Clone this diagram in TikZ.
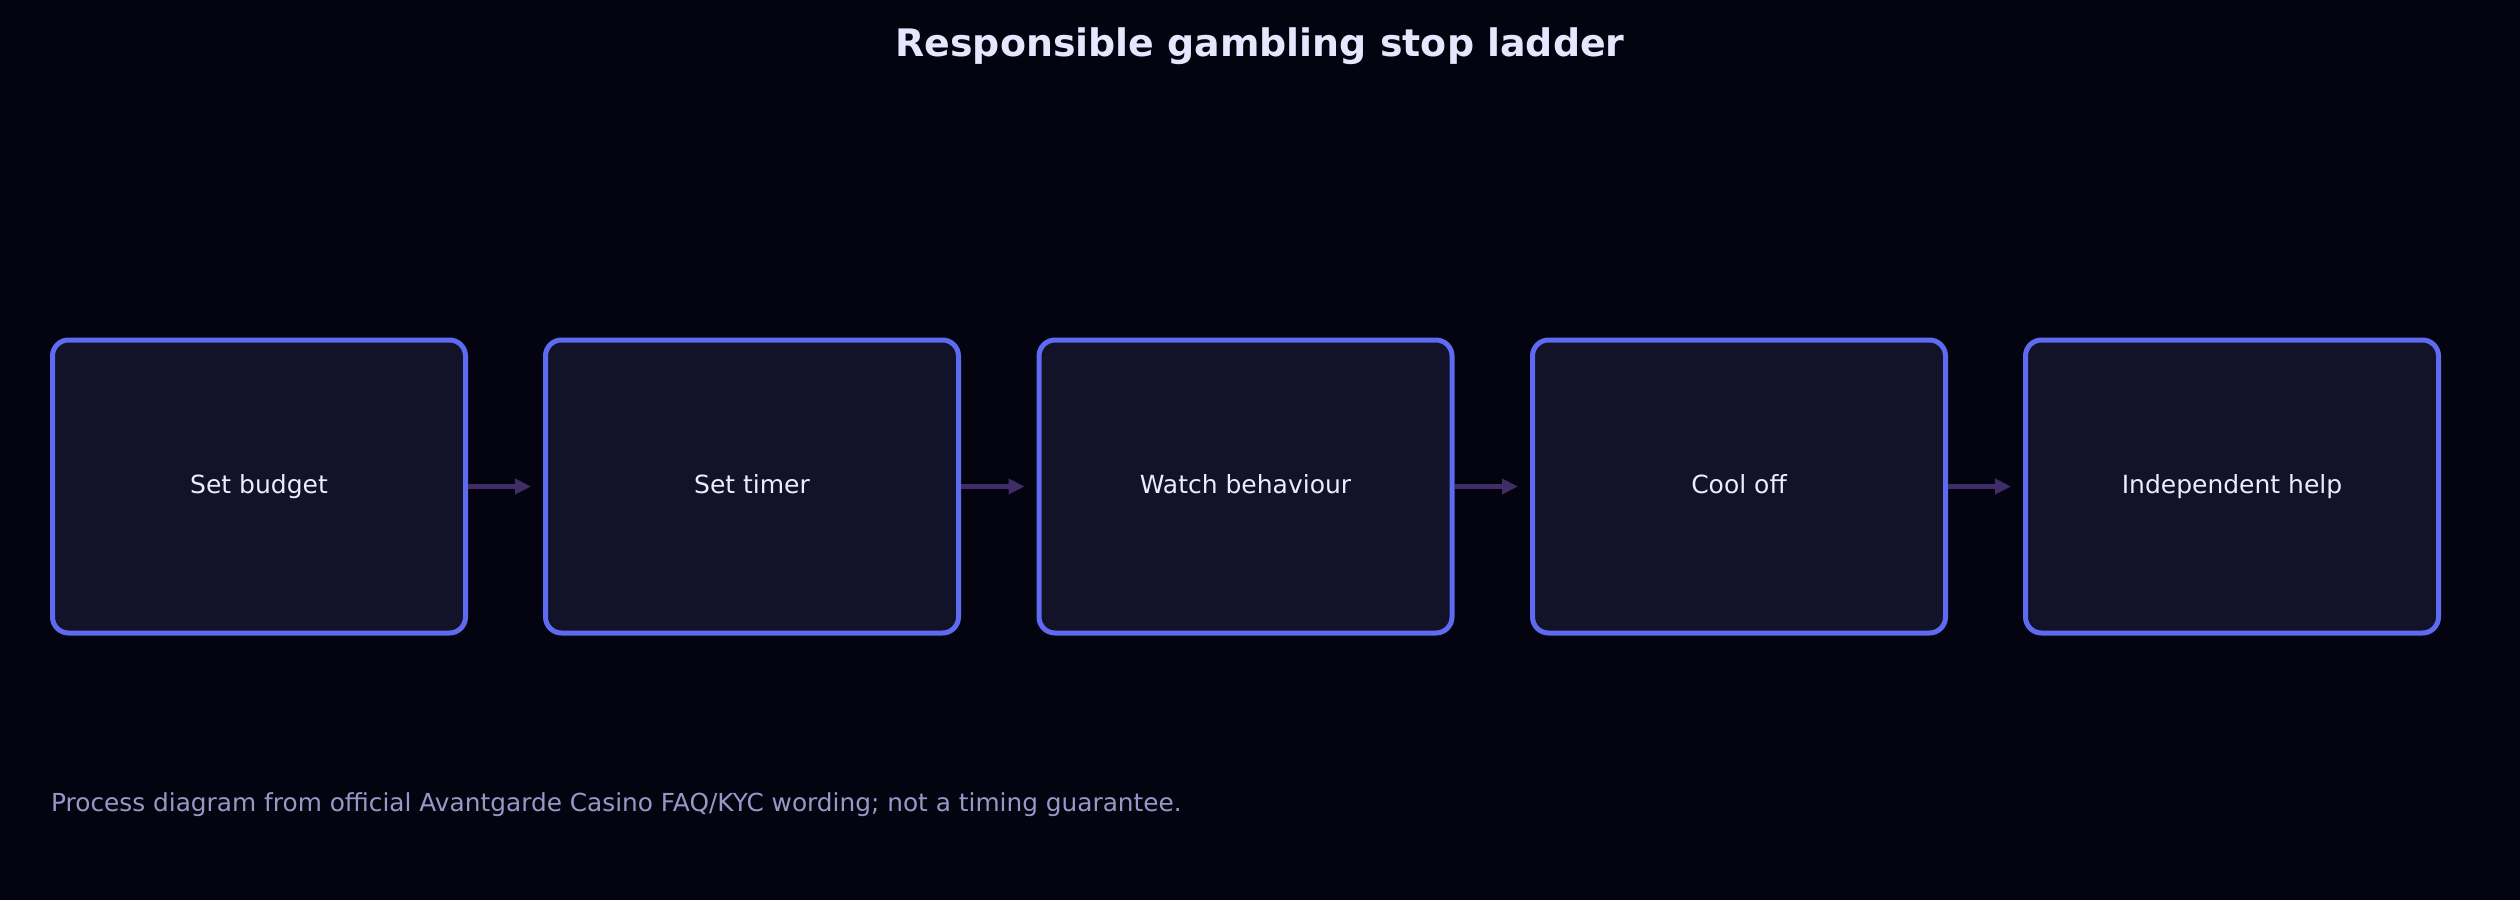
\documentclass[tikz,border=0pt]{standalone}
\usepackage{fontspec}
\setmainfont{DejaVu Sans}
\usetikzlibrary{arrows.meta}
\definecolor{bg}{HTML}{03040F}
\definecolor{boxfill}{HTML}{121229}
\definecolor{boxline}{HTML}{5E6AF0}
\definecolor{arrowc}{HTML}{3F2D68}
\definecolor{titlec}{HTML}{E6E6FF}
\definecolor{textc}{HTML}{ECECFF}
\definecolor{notec}{HTML}{9898C8}
\tikzset{
  stepbox/.style={draw=boxline, line width=5pt, fill=boxfill, rounded corners=16pt,
    minimum width=413pt, minimum height=293pt, inner sep=0pt, text=textc,
    text height=18pt, text depth=5pt,
    font=\fontsize{25}{30}\selectfont},
  flow/.style={draw=arrowc, line width=4.5pt, shorten >=12pt,
    -{Triangle[length=16pt,width=15pt]}},
}
\begin{document}
\begin{tikzpicture}[x=1pt,y=-1pt]
\fill[bg] (0,0) rectangle (2520,900);
\useasboundingbox (0,0) rectangle (2520,900);
\node[text=titlec, font=\bfseries\fontsize{37.9}{44}\selectfont] (title) at (1260,46) {Responsible gambling stop ladder};
\node[stepbox] (b1) at (259,486.5) {Set budget};
\node[stepbox] (b2) at (752,486.5) {Set timer};
\node[stepbox] (b3) at (1245.5,486.5) {Watch behaviour};
\node[stepbox] (b4) at (1739,486.5) {Cool off};
\node[stepbox] (b5) at (2232,486.5) {Independent help};
\draw[flow] (b1.east) -- (b2.west);
\draw[flow] (b2.east) -- (b3.west);
\draw[flow] (b3.east) -- (b4.west);
\draw[flow] (b4.east) -- (b5.west);
\node[anchor=west, text=notec, font=\fontsize{24.8}{30}\selectfont, inner sep=0pt] (note) at (51,805) {Process diagram from official Avantgarde Casino FAQ/KYC wording; not a timing guarantee.};
\end{tikzpicture}
\end{document}
